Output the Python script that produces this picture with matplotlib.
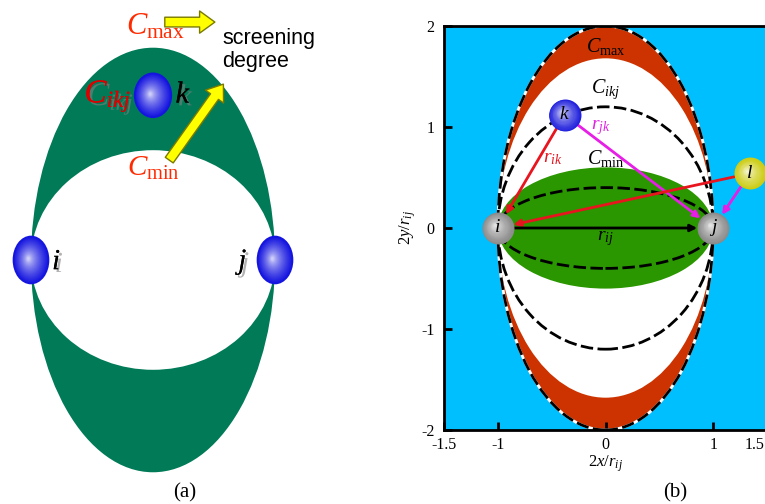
import numpy as np
import matplotlib.pyplot as plt
from matplotlib.patches import Ellipse, FancyArrowPatch
import matplotlib.patheffects as pe
import matplotlib.transforms as mtransforms
from matplotlib.colors import to_rgb

plt.rcParams['font.family'] = 'Liberation Serif'
plt.rcParams['mathtext.fontset'] = 'custom'
plt.rcParams['mathtext.rm'] = 'Liberation Serif'
plt.rcParams['mathtext.it'] = 'Liberation Serif:italic'
plt.rcParams['axes.unicode_minus'] = False

# ---- panel (a): half heights of the two ellipses (units of r_ij/2)
a_outer = 1.74
a_inner = 0.90
a_names = ['i', 'j', 'k']
a_x = [-1.0, 1.0, 0.0]
a_y = [0.0, 0.0, 1.35]

# ---- panel (b)
b_fill_h = [2.0, 1.68, 0.6]          # red band outer / red band inner / green
b_dash_h = [1.2, 0.4]                # C_ikj and inner dashed ellipse
b_names = ['i', 'j', 'k', 'l']
b_x = [-1.0, 1.0, -0.38, 1.34]
b_y = [0.0, 0.0, 1.12, 0.54]
b_cols = ['#8a8a8a', '#8a8a8a', '#2222dd', '#cccc10']
bonds = [('k', 'i', '#e8141e'), ('k', 'j', '#e61ee6'),
         ('l', 'i', '#e8141e'), ('l', 'j', '#e61ee6'),
         ('i', 'j', 'black')]
xticks = [-1.5, -1, 0, 1, 1.5]
xticklabels = ['-1.5', '-1', '0', '1', '1.5']
yticks = [-2, -1, 0, 1, 2]
yticklabels = ['-2', '-1', '0', '1', '2']

fig = plt.figure(figsize=(7.65, 5.04), dpi=100)

# ================= (a) =================
axa = fig.add_axes([0, 0, 382/765, 1])
axa.set_xlim(-1.254, 1.877)
axa.set_ylim(-2.0, 2.131)
axa.set_aspect('equal')
axa.axis('off')

axa.add_patch(Ellipse((0, 0), 2, 2*a_outer, color='#007a57', lw=0))
axa.add_patch(Ellipse((0, 0), 2, 2*a_inner, color='white', lw=0))

def shaded_ellipse(ax, x, y, w, h, edge, n=25):
    e = np.array(to_rgb(edge))
    for s in np.linspace(1, 0.08, n):
        c = e * s**0.6 + (1 - s**0.6) * np.ones(3)
        ax.add_patch(Ellipse((x - (1 - s)*w*0.08, y + (1 - s)*h*0.03),
                             w*s, h*s, color=c, lw=0, zorder=5))
    ax.add_patch(Ellipse((x, y), w, h, fill=False, ec=edge, lw=1.2, zorder=6))

sizes = {'i': (0.287, 0.385), 'j': (0.287, 0.385), 'k': (0.30, 0.36)}
for nm, x, y in zip(a_names, a_x, a_y):
    w, h = sizes[nm]
    shaded_ellipse(axa, x, y, w, h, '#1515e0')

arr_kw = dict(arrowstyle='simple,head_width=1.6,head_length=1.1,tail_width=0.7',
              mutation_scale=10, fc='#ffff00', ec='#7a7a00', lw=1, zorder=7)
axa.add_patch(FancyArrowPatch((0.074, 1.95), (0.53, 1.95), **arr_kw))
axa.add_patch(FancyArrowPatch((0.12, 0.80), (0.59, 1.46), **arr_kw))

red = '#ff2a00'
shadow = [pe.withSimplePatchShadow(offset=(2, -2), shadow_rgbFace='gray', alpha=0.6), pe.Normal()]
axa.text(0.02, 1.91, r'$C_{\rm max}$', color=red, fontsize=22, ha='center', va='center')
axa.text(0.0, 0.75, r'$C_{\rm min}$', color=red, fontsize=21, ha='center', va='center')
axa.text(-0.37, 1.34, r'$C_{ikj}$', color='#dd0000', fontsize=24, ha='center', va='center',
         path_effects=shadow)
axa.text(0.57, 1.72, 'screening\ndegree', family='Liberation Sans', fontsize=15.5,
         ha='left', va='center', linespacing=1.15)
axa.text(0.25, 1.35, '$k$', fontsize=22, ha='center', va='center', path_effects=shadow)
axa.text(-0.79, -0.02, '$i$', fontsize=21, ha='center', va='center', path_effects=shadow)
axa.text(0.75, -0.02, '$j$', fontsize=21, ha='center', va='center', path_effects=shadow)
axa.text(0.26, -1.91, '(a)', fontsize=15, ha='center', va='center')

# ================= (b) =================
axb = fig.add_axes([444/765, 74/504, 323/765, 404/504])
axb.set_facecolor('#00bfff')
axb.set_xlim(-1.5, 1.5)
axb.set_ylim(-2, 2)

axb.add_patch(Ellipse((0, 0), 2, 2*b_fill_h[0], color='#cc3300', lw=0, zorder=1))
axb.add_patch(Ellipse((0, 0), 2, 2*b_fill_h[1], color='white', lw=0, zorder=1))
axb.add_patch(Ellipse((0, 0), 2, 2*b_fill_h[2], color='#2a9600', lw=0, zorder=1))

axb.add_patch(Ellipse((0, 0), 2, 2*b_fill_h[0], fill=False, ec='white', lw=2, zorder=2))
axb.add_patch(Ellipse((0, 0), 2, 2*b_fill_h[0], fill=False, ec='black', lw=2,
                      ls=(0, (4.5, 1.6)), zorder=2))
for h in b_dash_h:
    axb.add_patch(Ellipse((0, 0), 2, 2*h, fill=False, ec='black', lw=2,
                          ls=(0, (4.5, 1.6)), zorder=2))

pos = {nm: (x, y) for nm, x, y in zip(b_names, b_x, b_y)}
for a, b, c in bonds:
    axb.annotate('', xy=pos[b], xytext=pos[a], zorder=3,
                 arrowprops=dict(arrowstyle='-|>', color=c, lw=2, mutation_scale=10,
                                 shrinkA=11.5, shrinkB=11.5))

for nm, x, y, c in zip(b_names, b_x, b_y, b_cols):
    e = np.array(to_rgb(c))
    for s in np.linspace(1, 0.08, 25):
        col = e * s**0.6 + (1 - s**0.6) * np.ones(3)
        axb.scatter([x - (1 - s)*0.03], [y + (1 - s)*0.03], s=530*s**2, color=col,
                    lw=0, zorder=4)
    axb.text(x, y, '$' + nm + '$', fontsize=14, ha='center', va='center', zorder=5)

axb.text(0.0, 1.8, r'$C_{\rm max}$', fontsize=14.5, ha='center', va='center', zorder=5)
axb.text(0.0, 1.37, r'$C_{ikj}$', fontsize=14.5, ha='center', va='center', zorder=5)
axb.text(0.0, 0.69, r'$C_{\rm min}$', fontsize=14.5, ha='center', va='center', zorder=5)
axb.text(-0.49, 0.69, r'$r_{ik}$', fontsize=14, color='#e8141e', ha='center', va='center', zorder=5)
axb.text(-0.04, 0.99, r'$r_{jk}$', fontsize=14, color='#e61ee6', ha='center', va='center', zorder=5)
axb.text(0.0, -0.1, r'$r_{ij}$', fontsize=14, ha='center', va='center', zorder=5)

axb.set_xticks(xticks)
axb.set_xticklabels(xticklabels)
axb.set_yticks(yticks)
axb.set_yticklabels(yticklabels)
axb.tick_params(direction='in', length=6, width=2, labelsize=11.5)
axb.tick_params(axis='x', pad=5)
axb.tick_params(axis='y', pad=7)
axb.tick_params(top=False, right=False)
# last x label sits at the figure edge, nudge it inside like the original
lab = axb.get_xticklabels()[-1]
lab.set_transform(lab.get_transform() + mtransforms.ScaledTranslation(-12/100, 0, fig.dpi_scale_trans))
for sp in axb.spines.values():
    sp.set_linewidth(2)
    sp.set_zorder(6)
axb.set_xlabel(r'$2x/r_{ij}$', fontsize=12, labelpad=0)
axb.set_ylabel(r'$2y/r_{ij}$', fontsize=12, labelpad=2)

fig.text(675/765, 1 - 493/504, '(b)', fontsize=15, ha='center', va='center')

fig.savefig('out.png', dpi=100)
